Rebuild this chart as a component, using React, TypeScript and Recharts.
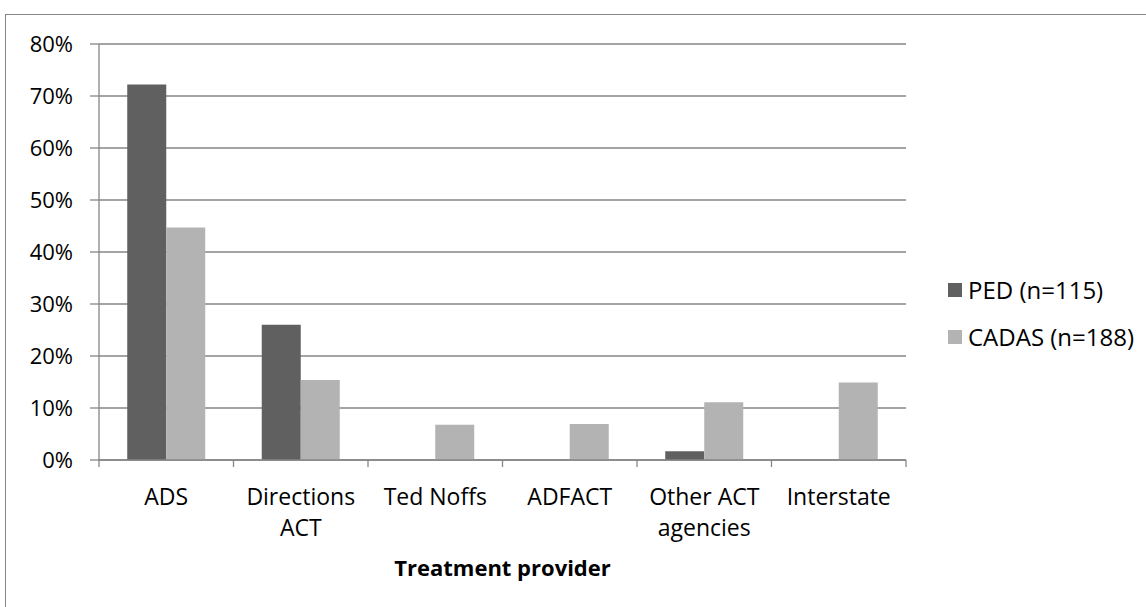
import React from 'react';
import { BarChart, Bar, XAxis, YAxis, CartesianGrid, Legend } from 'recharts';

// '\n' marks where the label wraps under its bars
const categories = ['ADS', 'Directions\nACT', 'Ted Noffs', 'ADFACT', 'Other ACT\nagencies', 'Interstate'];
const pedValues = [0.722, 0.26, 0, 0, 0.017, 0];
const cadasValues = [0.447, 0.154, 0.068, 0.069, 0.111, 0.149];
const yTicks = [0, 0.1, 0.2, 0.3, 0.4, 0.5, 0.6, 0.7, 0.8];

const series = [
  { key: 'ped', name: 'PED (n=115)', color: '#606060' },
  { key: 'cadas', name: 'CADAS (n=188)', color: '#b3b3b3' },
];

const data = categories.map((name, i) => ({ name, ped: pedValues[i], cadas: cadasValues[i] }));

const W = 1146;
const H = 607;
const M = { top: 44, right: 240, bottom: 27, left: 0 };
const Y_W = 99;
const X_H = 120;
const GREY = '#868686';
const FONT = '"Open Sans", sans-serif';
const BAND = (W - M.right - Y_W) / categories.length;

const CategoryTick = (props: any) => {
  const { x, y, payload, index } = props;
  const last = index === categories.length - 1;
  const lines = String(payload.value).split('\n');
  return (
    <g>
      <line x1={x - BAND / 2} x2={x - BAND / 2} y1={y} y2={y + 7} stroke={GREY} strokeWidth={1.3} />
      {last && <line x1={x + BAND / 2} x2={x + BAND / 2} y1={y} y2={y + 7} stroke={GREY} strokeWidth={1.3} />}
      <text x={x} y={y + 45} textAnchor="middle" fontSize={23} fontFamily={FONT} fill="#000">
        {lines.map((l, i) => (
          <tspan key={i} x={x} dy={i === 0 ? 0 : 30.5}>
            {l}
          </tspan>
        ))}
      </text>
    </g>
  );
};

const LegendBox = () => (
  <div style={{ fontFamily: FONT, fontSize: 24, color: '#000' }}>
    {series.map((s) => (
      <div key={s.key} style={{ display: 'flex', alignItems: 'center', height: 47 }}>
        <span style={{ width: 14, height: 14, background: s.color, marginRight: 6, display: 'inline-block' }} />
        <span>{s.name}</span>
      </div>
    ))}
  </div>
);

export default function App() {
  return (
    <div style={{ position: 'absolute', left: 0, top: 0, width: W, height: H, overflow: 'hidden', background: '#fff' }}>
      <div style={{ position: 'absolute', left: 5, top: 14, width: 1200, height: 700, border: `1px solid ${GREY}` }} />
      <BarChart
        width={W}
        height={H}
        data={data}
        margin={M}
        barCategoryGap="21%"
        barGap={0}
        style={{ position: 'absolute', left: 0, top: 0 }}
      >
        <CartesianGrid vertical={false} stroke={GREY} strokeWidth={1.3} />
        <XAxis
          dataKey="name"
          height={X_H}
          interval={0}
          tickLine={false}
          tickSize={0}
          tickMargin={0}
          axisLine={{ stroke: GREY, strokeWidth: 1.3 }}
          tick={<CategoryTick />}
          label={{
            value: 'Treatment provider',
            position: 'insideBottom',
            offset: 4,
            fontSize: 22,
            fontWeight: 700,
            fontFamily: FONT,
            fill: '#000',
          }}
        />
        <YAxis
          width={Y_W}
          domain={[0, 0.8]}
          ticks={yTicks}
          interval={0}
          tickSize={9}
          tickMargin={17}
          tickLine={{ stroke: GREY, strokeWidth: 1.3 }}
          axisLine={{ stroke: GREY, strokeWidth: 1.3 }}
          tickFormatter={(v) => `${Math.round(v * 100)}%`}
          tick={{ fontSize: 22, fontFamily: FONT, fill: '#000' }}
        />
        <Legend
          layout="horizontal"
          align="center"
          verticalAlign="middle"
          content={<LegendBox />}
          wrapperStyle={{ left: 948, top: 266, width: 195, height: 94 }}
        />
        {series.map((s) => (
          <Bar key={s.key} dataKey={s.key} name={s.name} fill={s.color} isAnimationActive={false} />
        ))}
      </BarChart>
    </div>
  );
}
